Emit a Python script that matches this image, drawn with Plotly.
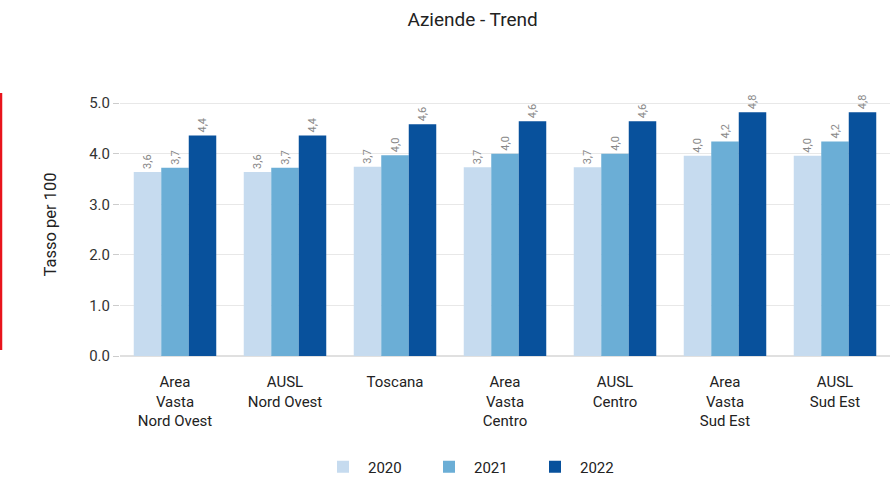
import plotly.graph_objects as go

categories = ["Area<br>Vasta<br>Nord Ovest", "AUSL<br>Nord Ovest", "Toscana",
              "Area<br>Vasta<br>Centro", "AUSL<br>Centro", "Area<br>Vasta<br>Sud Est",
              "AUSL<br>Sud Est"]
years = ["2020", "2021", "2022"]
values_2020 = [3.64, 3.64, 3.74, 3.73, 3.73, 3.96, 3.96]
values_2021 = [3.72, 3.72, 3.97, 4.00, 4.00, 4.24, 4.24]
values_2022 = [4.36, 4.36, 4.58, 4.64, 4.64, 4.82, 4.82]
colors = ["#c6dbef", "#6baed6", "#08519c"]
y_ticks = [0, 1, 2, 3, 4, 5]
y_tick_labels = ["0.0", "1.0", "2.0", "3.0", "4.0", "5.0"]

FONT = "Roboto"
fig = go.Figure()
for yr, vals, col in zip(years, [values_2020, values_2021, values_2022], colors):
    fig.add_trace(go.Bar(
        x=categories, y=vals, name=yr, marker=dict(color=col, line=dict(width=0)),
        texttemplate="%{y:.1f}", textposition="outside", textangle=-90,
        textfont=dict(size=11, color="#888888", family=FONT), cliponaxis=False,
    ))

fig.update_layout(
    width=890, height=478,
    barmode="group", bargap=0.25, bargroupgap=0,
    separators=",.",
    plot_bgcolor="white", paper_bgcolor="white",
    margin=dict(l=120, r=0, t=93, b=122, autoexpand=False),
    font=dict(family=FONT, color="#222222"),
    title=dict(text="Aziende - Trend", x=0.531, xanchor="center", y=1 - 19 / 478,
               yanchor="middle", font=dict(size=19, family=FONT, color="#222222")),
    xaxis=dict(tickfont=dict(size=15, family=FONT, color="#222222"), showgrid=False,
               ticks="", showline=False, ticklabelstandoff=15),
    yaxis=dict(range=[0, 5.2], tickvals=y_ticks, ticktext=y_tick_labels,
               tickfont=dict(size=15, family=FONT, color="#333333"),
               gridcolor="#e8e8e8", gridwidth=1, zeroline=True, zerolinecolor="#e0e0e0",
               zerolinewidth=2, ticks="outside", ticklen=6, tickcolor="#cccccc",
               title=dict(text="Tasso per 100", font=dict(size=16.5, family=FONT, color="#222222"),
                          standoff=28)),
    legend=dict(orientation="h", x=(477 - 120) / 770, xanchor="center", y=-(467 - 356) / 263,
                yanchor="middle", font=dict(size=15, family=FONT, color="#222222"),
                itemwidth=40, entrywidth=51, entrywidthmode="pixels",
                traceorder="normal"),
    shapes=[dict(type="line", xref="paper", yref="paper", x0=-119 / 770, x1=-119 / 770,
                 y0=(356 - 93) / 263, y1=(356 - 350) / 263,
                 line=dict(color="#e8141c", width=2.5))],
)

fig.write_html("out.html", config={"displayModeBar": False},
               post_script="document.body.style.margin='0px';document.body.style.overflow='hidden';")
